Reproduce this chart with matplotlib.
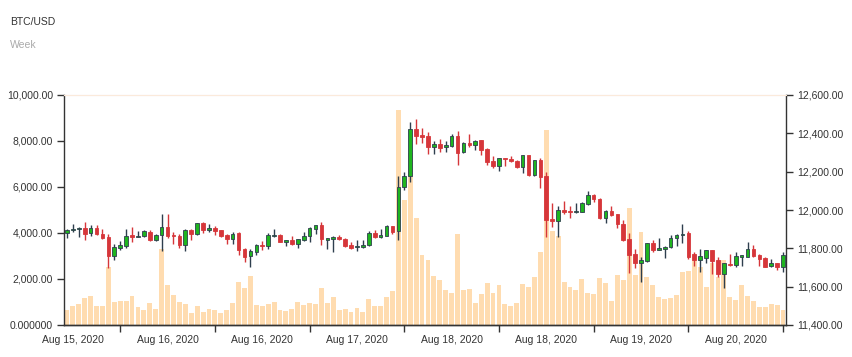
import matplotlib
matplotlib.use("Agg")
import matplotlib.pyplot as plt
import numpy as np

plt.rcParams['font.family'] = ['Liberation Sans', 'DejaVu Sans']

# hourly candles, BTC/USD
opens = [11878, 11894, 11899, 11904, 11878, 11906, 11873, 11857, 11762, 11803,
         11814, 11868, 11861, 11864, 11887, 11842, 11871, 11910, 11868, 11863,
         11817, 11896, 11873, 11932, 11894, 11906, 11894, 11870, 11850, 11880,
         11795, 11758, 11783, 11819, 11812, 11863, 11870, 11835, 11842, 11823,
         11845, 11863, 11903, 11922, 11845, 11849, 11861, 11850, 11817, 11805,
         11805, 11816, 11880, 11857, 11866, 11917, 11889, 12118, 12176, 12421,
         12390, 12384, 12329, 12344, 12327, 12332, 12388, 12301, 12351, 12339,
         12363, 12318, 12256, 12231, 12271, 12266, 12257, 12224, 12285, 12181,
         12261, 12176, 11953, 11943, 12000, 11995, 11988, 11991, 12031, 12078,
         12059, 11957, 11995, 11979, 11927, 11849, 11769, 11722, 11736, 11826,
         11791, 11798, 11805, 11852, 11868, 11878, 11769, 11741, 11751, 11791,
         11739, 11666, 11720, 11711, 11757, 11757, 11797, 11765, 11750, 11706,
         11724, 11704]
highs = [11901, 11925, 11910, 11939, 11920, 11923, 11901, 11873, 11823, 11840,
         11899, 11910, 11890, 11894, 11896, 11877, 11979, 11977, 11887, 11875,
         11899, 11901, 11934, 11937, 11925, 11918, 11897, 11875, 11887, 11885,
         11800, 11797, 11821, 11840, 11880, 11899, 11873, 11842, 11863, 11849,
         11887, 11911, 11922, 11937, 11852, 11863, 11868, 11852, 11835, 11842,
         11845, 11889, 11896, 11899, 11920, 11917, 12177, 12197, 12457, 12475,
         12426, 12407, 12358, 12370, 12360, 12397, 12414, 12357, 12397, 12367,
         12367, 12322, 12280, 12273, 12271, 12282, 12261, 12289, 12287, 12263,
         12270, 12198, 12038, 12021, 12047, 12019, 12038, 12042, 12097, 12085,
         12063, 12000, 12023, 11981, 11946, 11880, 11797, 11753, 11828, 11843,
         11852, 11812, 11870, 11873, 11925, 11889, 11779, 11797, 11791, 11793,
         11757, 11725, 11769, 11783, 11765, 11833, 11817, 11770, 11753, 11744,
         11725, 11783]
lows = [11852, 11887, 11861, 11845, 11864, 11868, 11849, 11699, 11741, 11790,
        11802, 11835, 11859, 11861, 11838, 11838, 11788, 11852, 11821, 11800,
        11788, 11845, 11871, 11882, 11887, 11870, 11861, 11823, 11821, 11765,
        11730, 11701, 11767, 11793, 11798, 11859, 11831, 11814, 11817, 11803,
        11838, 11835, 11875, 11816, 11795, 11779, 11842, 11807, 11798, 11788,
        11803, 11814, 11856, 11856, 11863, 11873, 11845, 12106, 12148, 12346,
        12351, 12292, 12294, 12304, 12301, 12329, 12237, 12297, 12329, 12315,
        12287, 12237, 12221, 12205, 12231, 12252, 12221, 12193, 12179, 12177,
        12113, 11857, 11913, 11861, 11979, 11960, 11986, 11990, 12026, 12042,
        11953, 11930, 11969, 11904, 11838, 11673, 11699, 11626, 11727, 11779,
        11790, 11748, 11800, 11812, 11830, 11746, 11710, 11675, 11725, 11664,
        11652, 11593, 11708, 11704, 11710, 11753, 11753, 11710, 11703, 11703,
        11689, 11678]
closes = [11896, 11901, 11906, 11877, 11904, 11873, 11852, 11762, 11805, 11817,
          11866, 11859, 11866, 11889, 11842, 11871, 11910, 11864, 11863, 11819,
          11896, 11873, 11932, 11896, 11904, 11889, 11866, 11849, 11877, 11791,
          11757, 11786, 11816, 11814, 11868, 11870, 11833, 11842, 11823, 11847,
          11864, 11908, 11920, 11849, 11852, 11861, 11847, 11812, 11803, 11810,
          11819, 11880, 11857, 11868, 11917, 11887, 12118, 12176, 12421, 12388,
          12381, 12327, 12343, 12325, 12339, 12388, 12299, 12351, 12339, 12362,
          12315, 12250, 12231, 12270, 12266, 12256, 12224, 12285, 12181, 12259,
          12174, 11948, 11943, 11998, 11988, 11988, 11995, 12037, 12078, 12056,
          11957, 11993, 11974, 11925, 11842, 11764, 11722, 11739, 11826, 11790,
          11802, 11809, 11854, 11871, 11875, 11753, 11741, 11758, 11790, 11736,
          11666, 11722, 11711, 11760, 11765, 11795, 11758, 11743, 11703, 11724,
          11703, 11765]
volumes = [654, 828, 915, 1176, 1263, 842, 842, 2523, 1002, 1031,
           1060, 1263, 770, 654, 973, 712, 3320, 1755, 1306, 1016,
           915, 509, 828, 581, 697, 668, 538, 654, 958, 1857,
           1596, 2132, 886, 813, 915, 1016, 654, 625, 683, 1002,
           857, 958, 915, 1610, 958, 1219, 654, 697, 567, 741,
           581, 1147, 828, 828, 1219, 1465, 9348, 5436, 7464, 4653,
           3045, 2827, 2117, 1944, 1523, 1393, 3958, 1523, 1567, 958,
           1349, 1842, 1393, 1755, 900, 842, 958, 1770, 1668, 2103,
           3161, 8479, 4103, 3885, 1871, 1654, 1509, 2001, 1393, 1364,
           2059, 1813, 1060, 2161, 1958, 5088, 2175, 4059, 2074, 1726,
           1234, 1118, 1176, 1306, 2291, 2349, 2827, 2509, 1654, 2683,
           2103, 2827, 1219, 1089, 1741, 1248, 1045, 784, 799, 929,
           857, 639]

date_labels = ["Aug 15, 2020", "Aug 16, 2020", "Aug 16, 2020", "Aug 17, 2020",
               "Aug 18, 2020", "Aug 18, 2020", "Aug 19, 2020", "Aug 20, 2020"]
vol_ticks = [0, 2000, 4000, 6000, 8000, 10000]
vol_tick_labels = ["0.000000", "2,000.00", "4,000.00", "6,000.00", "8,000.00", "10,000.00"]
price_ticks = [11400, 11600, 11800, 12000, 12200, 12400, 12600]

o = np.array(opens)
h = np.array(highs)
l = np.array(lows)
c = np.array(closes)
x = np.arange(len(o))
up = c >= o

green = '#1fb51f'
red = '#d6363a'
slate = '#2e3e4e'
axis_col = '#333333'

fig = plt.figure(figsize=(8.52, 3.57), dpi=100)
ax = fig.add_axes([64/852, 32/357, 722/852, 230/357])

# volume on the left axis
ax.bar(x, volumes, width=0.82, color='#ffdcb0', zorder=1)
ax.set_ylim(0, 10000)
ax.set_xlim(-0.5, len(o) - 0.5)
ax.set_yticks(vol_ticks)
ax.set_yticklabels(vol_tick_labels)

# candles on the right axis, bodies above the wicks
ax2 = ax.twinx()
ax2.vlines(x[up], l[up], h[up], color=slate, linewidth=1.0, zorder=2)
ax2.vlines(x[~up], l[~up], h[~up], color=red, linewidth=1.0, zorder=2)
body_lo = np.minimum(o, c)
body_h = np.maximum(np.abs(c - o), 3)
ax2.bar(x[up], body_h[up], bottom=body_lo[up], width=0.62, color=green,
        edgecolor=slate, linewidth=0.6, zorder=3)
ax2.bar(x[~up], body_h[~up], bottom=body_lo[~up], width=0.62, color=red,
        edgecolor=red, linewidth=0.6, zorder=3)
ax2.set_ylim(11400, 12600)
ax2.set_yticks(price_ticks)
ax2.set_yticklabels([f"{p:,.2f}" for p in price_ticks])

# x ticks: marks every 16 hours, date labels shifted by half a step
ax.set_xticks(np.arange(9, len(o), 16))
ax.set_xticklabels([])
ax.set_xticks(np.arange(1, len(o), 16), minor=True)
ax.set_xticklabels(date_labels, minor=True)
ax.tick_params(axis='x', which='minor', length=0, pad=7, labelsize=7.5,
               labelcolor='#333333')
ax.tick_params(axis='x', which='major', length=5, width=1, color=axis_col)

for a in (ax, ax2):
    a.tick_params(axis='y', length=5, width=1, pad=3, labelsize=7.5,
                  color=axis_col, labelcolor='#333333')
    for side in ('left', 'right', 'bottom'):
        a.spines[side].set_color(axis_col)
        a.spines[side].set_linewidth(1)
    a.spines['top'].set_color('#fbeadb')
ax.spines['right'].set_visible(False)
ax2.spines['left'].set_visible(False)

fig.text(10/852, 1 - 22/357, "BTC/USD", fontsize=7.5, color='#333333', va='center')
fig.text(10/852, 1 - 45/357, "Week", fontsize=7.5, color='#aaaaaa', va='center')

fig.savefig("out.png", dpi=100)
